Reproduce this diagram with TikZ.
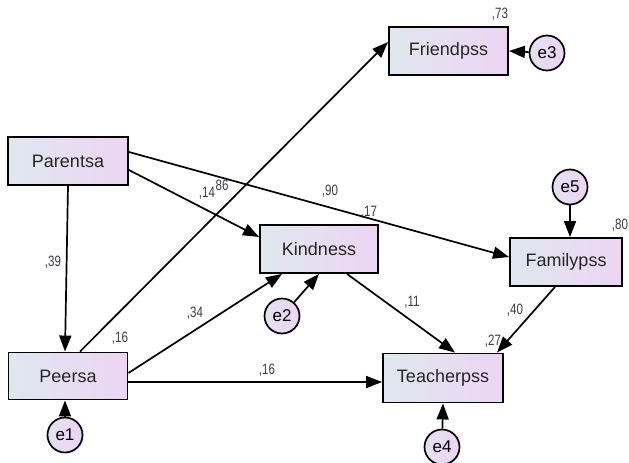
\documentclass[tikz,border=0pt]{standalone}
\usepackage{graphicx}
\usepackage{fontspec}
\setmainfont{Liberation Sans}
\usetikzlibrary{positioning,arrows.meta}
\definecolor{boxleft}{HTML}{E0E7EF}
\definecolor{boxright}{HTML}{ECD5F3}
\definecolor{numcol}{HTML}{3A3A48}
\newcommand{\estval}[1]{\scalebox{0.77}[1]{#1}}
\tikzset{
  varbox/.style={draw, line width=1.9pt, rectangle, left color=boxleft, right color=boxright, minimum width=119pt, minimum height=48pt, font=\fontsize{18}{21}\selectfont, text=black!85},
  errcirc/.style={draw, line width=1.7pt, circle, left color=boxleft!60!boxright, right color=boxright, minimum size=35pt, inner sep=0pt, font=\fontsize{17}{20}\selectfont},
  pth/.style={line width=1.7pt, -{Triangle[length=16pt,width=12pt]}},
  est/.style={font=\fontsize{15}{17}\selectfont, text=numcol, inner sep=0pt}
}
\begin{document}
\begin{tikzpicture}[x=1pt, y=-1pt]
            \useasboundingbox (0,0) rectangle (629,463);
            \node (parentsa) at (68,161) [varbox, minimum width=120pt] {Parentsa};
            \node (peersa) at (68,376) [varbox, minimum width=119pt, minimum height=47pt] {Peersa};
            \node (friendpss) at (448.5,51) [varbox] {Friendpss};
            \node (kindness) at (319,249) [varbox, minimum width=118pt] {Kindness};
            \node (familypss) at (566,262) [varbox, minimum width=112pt] {Familypss};
            \node (teacherpss) at (443,378) [varbox, minimum width=120pt, minimum height=49pt] {Teacherpss};

            \node (e1) at (65,435) [errcirc] {e1};
            \node (e2) at (282,316) [errcirc] {e2};
            \node (e3) at (547,53) [errcirc] {e3};
            \node (e4) at (442,447) [errcirc] {e4};
            \node (e5) at (570,187) [errcirc] {e5};

            \draw [pth] (parentsa.south) -- ([xshift=-3pt]peersa.north);
            \draw [pth] ([xshift=12pt]peersa.north) -- ([yshift=9pt]friendpss.west);
            \draw [pth] ([yshift=9pt]parentsa.east) -- ([yshift=5pt]familypss.west);
            \draw [pth] ([yshift=-9pt]parentsa.east) -- ([yshift=12pt]kindness.west);
            \draw [pth] ([yshift=3pt]peersa.east) -- ([xshift=-37pt]kindness.south);
            \draw [pth] (e2) -- (kindness.south);
            \draw [pth] ([yshift=-6pt]peersa.east) -- ([yshift=-4pt]teacherpss.west);
            \draw [pth] ([xshift=28pt]kindness.south) -- ([xshift=12pt]teacherpss.north);
            \draw [pth] ([xshift=-11pt]familypss.south) -- ([xshift=54pt]teacherpss.north);
            \draw [pth] (e1) -- ([xshift=-3pt]peersa.south);
            \draw [pth] (e3) -- (friendpss.east);
            \draw [pth] (e4) -- (teacherpss.south);
            \draw [pth] (e5) -- ([xshift=4pt]familypss.north);

            % estimates
            \node (r73) at (500,14) [est] {\estval{,73}};
            \node (r80) at (620,225) [est] {\estval{,80}};
            \node (r27) at (493,341) [est] {\estval{,27}};
            \node (r16p) at (120,338) [est] {\estval{,16}};
            \node (b39) at (53,262) [est] {\estval{,39}};
            \node (b14) at (207,193) [est] {\estval{,14}};
            \node (b86) at (222,185) [est] {\estval{86}};
            \node (b90) at (330,191) [est] {\estval{,90}};
            \node (b17) at (369,212) [est] {\estval{,17}};
            \node (b34) at (195,313) [est] {\estval{,34}};
            \node (b16) at (267,370) [est] {\estval{,16}};
            \node (b11) at (412,302) [est] {\estval{,11}};
            \node (b40) at (515,310) [est] {\estval{,40}};
        \end{tikzpicture}
\end{document}
